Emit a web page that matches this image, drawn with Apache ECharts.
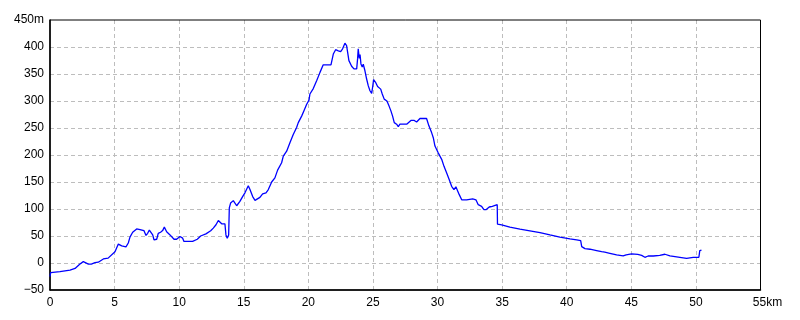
<!DOCTYPE html>
<html>
<head>
<meta charset="utf-8">
<script src="https://cdn.jsdelivr.net/npm/echarts@6/dist/echarts.min.js"></script>
<style>
html,body{margin:0;padding:0;background:#fff;}
#c{width:800px;height:320px;}
</style>
</head>
<body>
<div id="c"></div>
<script>
// Distance along route (km)
var distanceKm = [0,0.05,0.77,1.55,1.94,2.32,2.58,2.7,2.97,3.2,3.48,3.74,3.87,4.13,4.5,4.64,5.03,5.29,5.4,5.55,5.88,6.06,6.19,6.4,6.71,6.84,6.97,7.1,7.27,7.43,7.56,7.69,7.8,7.95,8.05,8.26,8.38,8.56,8.72,8.85,9.03,9.29,9.6,9.8,10.06,10.27,10.37,11.04,11.4,11.66,12.07,12.44,12.64,12.85,13.03,13.16,13.29,13.54,13.62,13.72,13.83,13.88,13.98,14.19,14.45,14.7,14.91,15.09,15.35,15.48,15.69,15.87,16.0,16.25,16.46,16.72,16.9,17.16,17.41,17.62,17.93,18.06,18.32,18.58,18.83,19.09,19.22,19.48,19.66,19.87,20.05,20.12,20.38,20.64,20.9,21.15,21.75,21.93,22.11,22.32,22.5,22.65,22.83,22.96,23.14,23.35,23.53,23.74,23.81,23.86,23.94,24.0,24.07,24.17,24.25,24.38,24.51,24.64,24.77,24.9,24.97,25.05,25.2,25.36,25.6,25.72,25.87,26.08,26.24,26.39,26.52,26.65,26.83,26.96,27.09,27.61,27.94,28.2,28.38,28.64,29.15,29.33,29.54,29.67,29.8,30.05,30.32,30.5,30.7,30.9,31.09,31.27,31.42,31.55,31.68,31.87,32.25,32.72,32.97,33.15,33.41,33.59,33.75,34.0,34.24,34.39,34.62,34.64,34.96,35.6,36.38,37.15,37.93,38.7,39.47,40.25,40.77,41.08,41.16,41.41,41.8,42.31,42.7,42.83,42.95,43.34,43.86,44.37,44.6,45.02,45.5,45.8,46.05,46.3,46.7,47.2,47.6,47.99,48.38,48.76,49.28,49.79,50.23,50.3,50.43];
// Elevation (m)
var elevationM = [-25,-18,-16,-13,-10,-2,2.5,2.5,-2,-2,0.6,1.5,4,7.5,9,12,21,35,36.5,31.6,30,37,48,57,63,64.6,62,64.6,60,51,55,61,61,52,43,44,55,57,60,66.5,58,52,44,44,49,46,40,40,44,50,54,59.6,64.6,70.8,78.8,78.8,72.6,72.6,52,46,52,102,111,115.5,106,114,123,130,143,136,123,116,115.5,121.6,128,130,136,150,157.7,172,185.6,198,207,223,238,251,260,272,282,294,301.6,313,323,337.6,353,367,367,387,395,393,391.6,396.6,407,402.7,374.8,364.4,359.4,359.4,378,396.6,379,386,368.7,363,368,356,340.7,328,319,314,325,339.5,334.6,327,322,313,303.5,300,291,281.7,272,260,257,252.7,257,257,264,264,261,267.6,267.6,254,241.5,232,216.6,204,192,179,167,154.5,142,136,141,139,126.6,117,117,118.6,117,108,105,98.7,98.7,103.7,105,108,108,72,70.8,66.4,62.7,59.6,56.4,52,47.8,44.7,42.8,41.5,30.4,26.6,25.5,23,21,18,20,18,14.9,13,15,16.8,16,14,10.6,13,13,14.3,16.2,13,11.8,10.6,8.7,10.6,10.6,23,24];
// Axis ticks
var xTicks = [0,5,10,15,20,25,30,35,40,45,50,55];
var yTicks = [-50,0,50,100,150,200,250,300,350,400,450];

var points = distanceKm.map(function(d,i){ return [d, elevationM[i]]; });
var labelFont = 'Liberation Sans';
var chart = echarts.init(document.getElementById('c'), null, {renderer:'canvas'});
chart.setOption({
  backgroundColor:'#ffffff',
  animation:false,
  grid:{left:50, right:39.5, top:20, bottom:30, show:true, borderColor:'#000', borderWidth:1, backgroundColor:'transparent', z:3},
  xAxis:{
    type:'value', min:xTicks[0], max:xTicks[xTicks.length-1], interval:5,
    axisLine:{show:true, onZero:false, lineStyle:{color:'#000', width:1.5}},
    axisTick:{show:false},
    splitLine:{show:true, showMinLine:false, showMaxLine:false, lineStyle:{color:'#bdbdbd', type:[4,3], width:1}},
    axisLabel:{
      color:'#000', fontFamily:labelFont, fontSize:12, margin:7,
      showMaxLabel:true, showMinLabel:true,
      formatter:function(v){ return v===xTicks[xTicks.length-1] ? '{p|}'+v+'km' : String(v); },
      rich:{p:{width:14}}
    }
  },
  yAxis:{
    type:'value', min:yTicks[0], max:yTicks[yTicks.length-1], interval:50,
    axisLine:{show:true, onZero:false, lineStyle:{color:'#000', width:1.5}},
    axisTick:{show:false},
    splitLine:{show:true, showMinLine:false, showMaxLine:false, lineStyle:{color:'#bdbdbd', type:[4,3], width:1}},
    axisLabel:{
      color:'#000', fontFamily:labelFont, fontSize:12, margin:6,
      showMaxLabel:true, showMinLabel:true,
      formatter:function(v){
        if (v===yTicks[yTicks.length-1]) return v+'m';
        if (v<0) return '\u2212'+Math.abs(v);
        return String(v);
      }
    }
  },
  series:[{
    type:'line', data:points, showSymbol:false, symbol:'none',
    lineStyle:{color:'#0000ff', width:1.3}, itemStyle:{color:'#0000ff'},
    clip:true
  }]
});
</script>
</body>
</html>
